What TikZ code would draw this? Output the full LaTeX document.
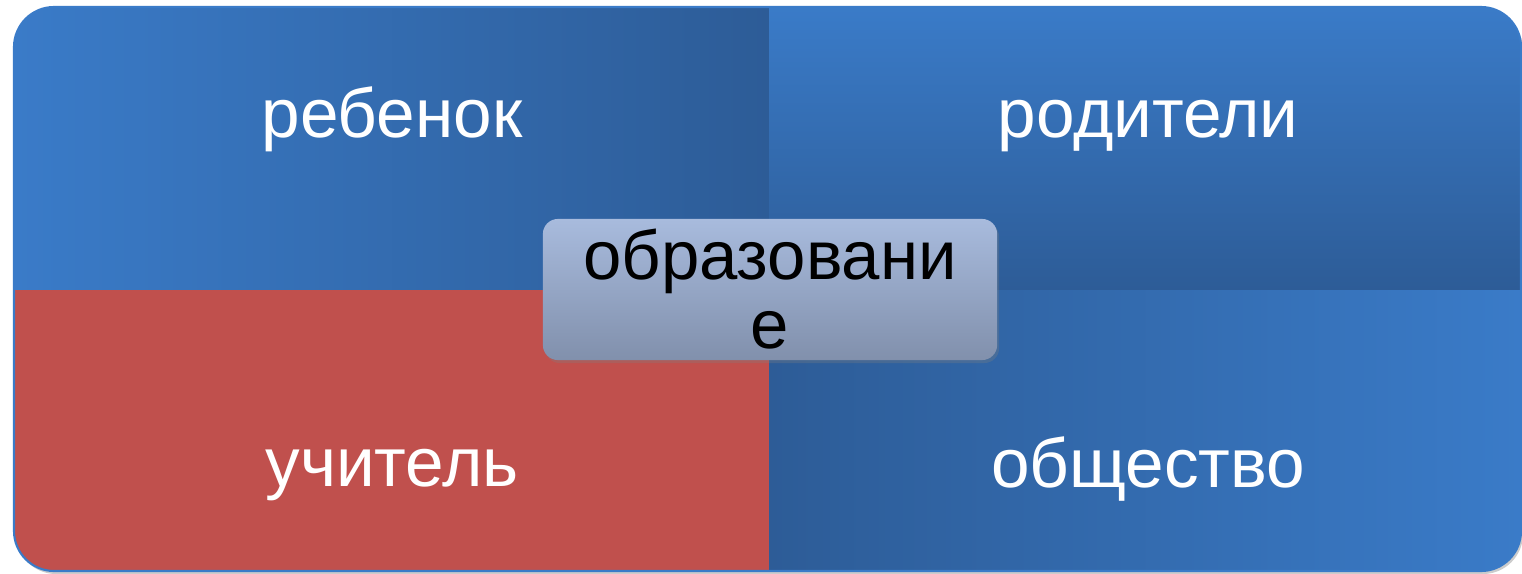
\documentclass[tikz,border=0pt]{standalone}
\usepackage{fontspec}
\setmainfont{Liberation Sans}
\usetikzlibrary{positioning}
\usetikzlibrary{shadows}
\usepackage{xcolor}

\definecolor{quadlight}{HTML}{3A7BC8}
\definecolor{quaddark}{HTML}{2D5C97}
\definecolor{quadred}{HTML}{C0504D}
\definecolor{hubtop}{HTML}{A8BBDD}
\definecolor{hubbottom}{HTML}{8190AC}

\tikzset{
  quadtext/.style={anchor=base, text=white, font=\fontsize{19.7}{23}\selectfont},
  hubbox/.style={rounded corners=0.15cm, minimum width=4.54cm, minimum height=1.41cm,
    top color=hubtop, bottom color=hubbottom, align=center, inner sep=0pt,
    drop shadow={shadow xshift=0.02cm, shadow yshift=-0.03cm, opacity=0.3},
    font=\fontsize{19.6}{19.6}\selectfont},
}

\begin{document}
\begin{tikzpicture}[x=0.01cm, y=-0.01cm]
\useasboundingbox (0,0) rectangle (1522,573);
\begin{scope}[xshift=0cm, yshift=0cm]

%%%%%%%%%% Shadow and base %%%%%%%%
{
\fill[black, opacity=0.2, rounded corners=0.4cm] (16,10) rectangle (1523,574);
\fill[quadlight, rounded corners=0.4cm] (14,7) rectangle (1521,571);
}

%%%%%%%%%%%%     Quadrants   %%%%%%%%%%%%
\begin{scope}
\clip[rounded corners=0.4cm] (14,7) rectangle (1521,571);
\shade[left color=quadlight, right color=quaddark] (14,7) rectangle (769,290);
\shade[top color=quadlight, bottom color=quaddark] (769,7) rectangle (1521,290);
\fill[quadred] (14,290) rectangle (769,571);
\shade[left color=quaddark, right color=quadlight] (769,290) rectangle (1521,571);
\end{scope}
\draw[quadlight, line width=0.6pt, rounded corners=0.4cm] (14,7) rectangle (1521,571);

%%%%%%%%%% Labels %%%%%%%%
{
\node[quadtext] (child) at (392,137) {ребенок};
\node[quadtext] (parents) at (1148,137) {родители};
\node[quadtext] (teacher) at (392,486) {учитель};
\node[quadtext] (society) at (1148,487) {общество};
}

%%%%%%%%%%%%     Centre   %%%%%%%%%%%%
{
\node[hubbox] (education) at (770,289.5) {образовани\\е};
}

\end{scope}
\end{tikzpicture}
\end{document}
